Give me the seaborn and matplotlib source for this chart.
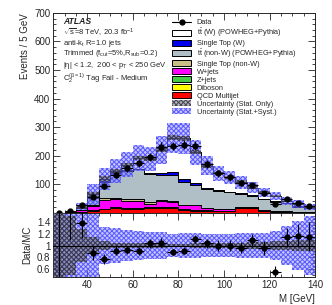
import numpy as np
import pandas as pd
import matplotlib
matplotlib.use('Agg')
import matplotlib.pyplot as plt
import seaborn as sns
from matplotlib.lines import Line2D
from matplotlib.patches import Patch
from matplotlib.ticker import MultipleLocator, FixedLocator

sns.set_theme(style='ticks')
plt.rcParams['font.family'] = ['Liberation Sans', 'DejaVu Sans']
plt.rcParams['mathtext.fontset'] = 'custom'
plt.rcParams['mathtext.rm'] = 'Liberation Sans'
plt.rcParams['mathtext.it'] = 'Liberation Sans'
plt.rcParams['mathtext.bf'] = 'Liberation Sans:bold'
plt.rcParams['mathtext.sf'] = 'Liberation Sans'
plt.rcParams['hatch.linewidth'] = 0.7

# ---------------- data ----------------
edges = [float(e) for e in range(25, 141, 5)]
centers = np.array(edges[:-1]) + 2.5

data = [1, 7, 29, 57, 93, 133, 156, 174, 197, 232, 234, 238, 235, 171, 139, 124, 104, 96, 68, 32, 49, 36, 23]

qcd = [0.2, 0.6, 3, 8, 12, 17, 15, 15, 18, 18, 18, 9, 8, 7, 6, 6, 17, 16, 5, 2, 2, 1, 1]
diboson = [0, 0.1, 0.4, 0.8, 1.2, 1.5, 1.5, 1.5, 1.5, 1.8, 1.8, 1.8, 1.5, 1.2, 1, 1, 0.9, 0.8, 0.7, 0.6, 0.5, 0.4, 0.3]
zjets = [0, 0.2, 0.8, 1.5, 2, 2, 2, 2, 2, 2, 2, 2, 1.5, 1.5, 1.2, 1.2, 1, 1, 1, 0.8, 0.6, 0.5, 0.4]
wjets = [0.1, 0.6, 4.8, 13.7, 29.8, 26.5, 24.5, 24.5, 9.5, 18.2, 15.2, 13.2, 15, 6.3, 4.8, 3.8, 1.1, 1.2, 1.3, 1.6, 0.9, 1.1, 0.8]
st_nonw = [0, 0.2, 1, 3, 6, 6, 7, 5, 7, 4, 6, 2, 1, 1, 1, 1, 1, 1, 1, 1, 1, 1, 0.5]
tt_nonw = [0.1, 1.3, 6, 25, 57, 87, 98, 105, 99, 89, 88, 79, 69, 68, 64, 59, 45, 40, 39, 32, 28, 18, 14]
st_w = [0, 0.1, 0.5, 1, 2, 1.5, 2, 2, 3, 7, 11, 10, 9, 2, 2, 2, 2, 2, 2, 2, 1, 1, 1]
tt_w = [0.2, 0.9, 4.5, 12, 10, 4.5, 19, 36, 50, 81, 121, 144, 107, 78, 59, 50, 40, 26, 21, 18, 9, 8, 2]

stat_rel = [0.6, 0.5, 0.28, 0.14, 0.07, 0.05, 0.04, 0.04, 0.04, 0.035, 0.03, 0.03, 0.035, 0.04, 0.04, 0.045, 0.05, 0.055, 0.06, 0.07, 0.08, 0.09, 0.1]
tot_rel = [0.7, 0.65, 0.6, 0.55, 0.32, 0.29, 0.26, 0.24, 0.22, 0.22, 0.2, 0.21, 0.21, 0.2, 0.19, 0.19, 0.21, 0.21, 0.21, 0.25, 0.33, 0.42, 0.5]

labels = ['Data', r'$t\bar{t}$ (W) (POWHEG+Pythia)', 'Single Top (W)',
          r'$t\bar{t}$ (non-W) (POWHEG+Pythia)', 'Single Top (non-W)', 'W+jets',
          'Z+jets', 'Diboson', 'QCD Multijet',
          'Uncertainty (Stat. Only)', 'Uncertainty (Stat.+Syst.)']

# bottom -> top
components = [qcd, diboson, zjets, wjets, st_nonw, tt_nonw, st_w, tt_w]
colors = ['#ff0000', '#ffff00', '#44cc44', '#ff00ff', '#cbbf88', '#b0bec5', '#0000ee', '#ffffff']

data = np.array(data, float)
cum = np.cumsum(np.array(components, float), axis=0)
mc = cum[-1]
edges_a = np.array(edges)

# ---------------- figure ----------------
fig = plt.figure(figsize=(3.32, 3.05), dpi=100)
ax = fig.add_axes([0.160, 0.302, 0.789, 0.656])
ax2 = fig.add_axes([0.160, 0.092, 0.789, 0.210], sharex=ax)

for i in range(len(components) - 1, -1, -1):
    df = pd.DataFrame({'M': centers, 'w': cum[i]})
    sns.histplot(data=df, x='M', weights='w', bins=edges, element='step', fill=True,
                 color=colors[i], edgecolor='black', linewidth=0.7, alpha=1, ax=ax)

def ext(a):
    a = np.asarray(a, float)
    return np.append(a, a[-1])

syst_face = (0.50, 0.50, 1.0, 0.45)
syst_hatch = (0.28, 0.28, 1.0, 0.85)
stat_face = (0.30, 0.30, 0.35, 0.45)
stat_hatch = (0.2, 0.2, 0.25, 0.85)
HATCH = 'xxxxxxx'

stat = mc * np.array(stat_rel)
tot = mc * np.array(tot_rel)
ax.fill_between(edges_a, ext(mc - tot), ext(mc + tot), step='post', facecolor=syst_face,
                edgecolor=syst_hatch, hatch=HATCH, linewidth=0, zorder=5)
ax.fill_between(edges_a, ext(mc - stat), ext(mc + stat), step='post', facecolor=stat_face,
                edgecolor=stat_hatch, hatch=HATCH, linewidth=0, zorder=6)

ax.errorbar(centers, data, xerr=2.5, yerr=np.sqrt(data), fmt='o', color='black',
            ms=3.5, lw=0.8, capsize=0, zorder=10)

ax.set_xlim(25, 140)
ax.set_ylim(0, 700)
ax.yaxis.set_major_locator(FixedLocator([100, 200, 300, 400, 500, 600, 700]))
ax.yaxis.set_minor_locator(MultipleLocator(20))
ax.xaxis.set_major_locator(MultipleLocator(20))
ax.xaxis.set_minor_locator(MultipleLocator(5))
ax.set_ylabel('Events / 5 GeV', loc='top', fontsize=7, labelpad=3)
ax.set_xlabel('')
plt.setp(ax.get_xticklabels(), visible=False)

for a in (ax, ax2):
    a.tick_params(which='both', direction='in', top=True, right=True, labelsize=7, width=0.6, pad=2)
    a.tick_params(which='major', length=5)
    a.tick_params(which='minor', length=2.5)
    for s in a.spines.values():
        s.set_linewidth(0.7)

# texts
tx = 0.038
ax.text(tx, 0.955, 'ATLAS', transform=ax.transAxes, fontsize=6.2, fontweight='bold',
        fontstyle='italic', va='center')
ax.text(tx, 0.900, r'$\sqrt{s}$=8 TeV, 20.3 fb$^{-1}$', transform=ax.transAxes, fontsize=5.5, va='center')
ax.text(tx, 0.848, r'anti-$k_{t}$ R=1.0 jets', transform=ax.transAxes, fontsize=5.5, va='center')
ax.text(tx, 0.795, r'Trimmed ($f_{\rm cut}$=5%,$R_{\rm sub}$=0.2)', transform=ax.transAxes, fontsize=5.5, va='center')
ax.text(tx, 0.737, r'$|\eta|$ < 1.2,  200 < $p_{\rm T}$ < 250 GeV', transform=ax.transAxes, fontsize=5.5, va='center')
ax.text(tx, 0.672, r'$C_{2}^{(\beta=1)}$ Tag Fail - Medium', transform=ax.transAxes, fontsize=5.5, va='center')

# legend
handles = [Line2D([0], [0], color='black', marker='o', ms=3.5, lw=0.8)]
for c in colors[::-1]:
    handles.append(Patch(facecolor=c, edgecolor='black', linewidth=0.7))
handles.append(Patch(facecolor=stat_face, edgecolor=stat_hatch, hatch=HATCH, linewidth=0))
handles.append(Patch(facecolor=syst_face, edgecolor=syst_hatch, hatch=HATCH, linewidth=0))
ax.legend(handles, labels, loc='upper left', bbox_to_anchor=(0.455, 0.97), frameon=False,
          fontsize=5.3, handlelength=2.6, handleheight=0.9, handletextpad=0.7,
          labelspacing=0.05, borderpad=0, borderaxespad=0)

# ---------------- ratio ----------------
ax2.fill_between(edges_a, ext(1 - np.array(tot_rel)), ext(1 + np.array(tot_rel)), step='post',
                 facecolor=syst_face, edgecolor=syst_hatch, hatch=HATCH, linewidth=0, zorder=2)
ax2.fill_between(edges_a, ext(1 - np.array(stat_rel)), ext(1 + np.array(stat_rel)), step='post',
                 facecolor=stat_face, edgecolor=stat_hatch, hatch=HATCH, linewidth=0, zorder=3)
ax2.axhline(1, color='black', lw=0.9, zorder=4)
ratio = data / mc
ax2.errorbar(centers, ratio, xerr=2.5, yerr=np.sqrt(data) / mc, fmt='o', color='black',
             ms=3.5, lw=0.8, capsize=0, zorder=10)
ax2.set_ylim(0.47, 1.55)
ax2.yaxis.set_major_locator(FixedLocator([0.6, 0.8, 1.0, 1.2, 1.4]))
ax2.yaxis.set_minor_locator(MultipleLocator(0.05))
ax2.set_yticklabels(['0.6', '0.8', '1', '1.2', '1.4'])
ax2.set_ylabel('Data/MC', fontsize=7, labelpad=3)
ax2.set_xlabel('M [GeV]', loc='right', fontsize=7, labelpad=3)

fig.savefig('out.png', dpi=100)
